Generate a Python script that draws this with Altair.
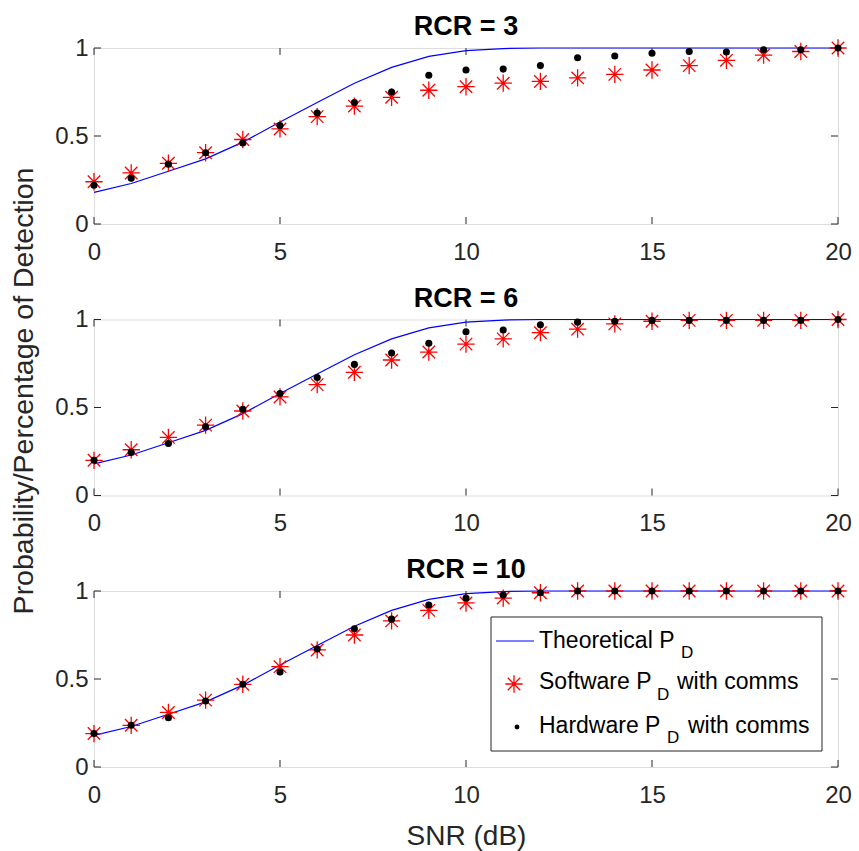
import altair as alt
import pandas as pd

FONT = "Liberation Sans"
AX = "#262626"

snr = list(range(21))

theory = [0.18, 0.23, 0.30, 0.37, 0.465, 0.58, 0.69, 0.80, 0.89, 0.952, 0.985,
          0.997, 1.0, 1.0, 1.0, 1.0, 1.0, 1.0, 1.0, 1.0, 1.0]

sw_rcr3 = [0.24, 0.29, 0.345, 0.405, 0.48, 0.54, 0.61, 0.67, 0.72, 0.76, 0.78,
           0.80, 0.81, 0.83, 0.85, 0.875, 0.90, 0.93, 0.96, 0.98, 1.0]
hw_rcr3 = [0.22, 0.26, 0.34, 0.405, 0.46, 0.56, 0.63, 0.69, 0.75, 0.845, 0.875,
           0.88, 0.90, 0.945, 0.955, 0.97, 0.98, 0.977, 0.99, 0.99, 1.0]

sw_rcr6 = [0.20, 0.26, 0.33, 0.40, 0.48, 0.56, 0.63, 0.70, 0.77, 0.815, 0.86,
           0.89, 0.925, 0.945, 0.975, 0.99, 0.995, 0.995, 0.995, 0.995, 1.0]
hw_rcr6 = [0.20, 0.245, 0.295, 0.39, 0.49, 0.58, 0.67, 0.745, 0.81, 0.865, 0.93,
           0.94, 0.97, 0.985, 0.99, 0.995, 0.995, 0.995, 0.995, 0.995, 1.0]

sw_rcr10 = [0.19, 0.237, 0.31, 0.38, 0.47, 0.57, 0.665, 0.75, 0.83, 0.89, 0.932,
            0.96, 0.99, 1.0, 1.0, 1.0, 1.0, 1.0, 1.0, 1.0, 1.0]
hw_rcr10 = [0.19, 0.237, 0.28, 0.375, 0.47, 0.54, 0.67, 0.785, 0.84, 0.92, 0.96,
            0.977, 0.99, 1.0, 1.0, 1.0, 1.0, 1.0, 1.0, 1.0, 1.0]

rcr_values = [3, 6, 10]
x_ticks = [0, 5, 10, 15, 20]
y_ticks = [0, 0.5, 1]

legend_main = ["Theoretical P", "Software P", "Hardware P"]
legend_sub = ["D", "D", "D"]
legend_tail = ["", "with comms", "with comms"]

W, H = 744, 176
TL = 7  # inner tick length
ASTERISK = "M-1,0L1,0M0,-1L0,1M-0.72,-0.72L0.72,0.72M-0.72,0.72L0.72,-0.72"


def panel(rcr, sw, hw, xtitle, ytitle, legend):
    df = pd.DataFrame({"snr": snr, "theory": theory, "sw": sw, "hw": hw})
    xscale = alt.Scale(domain=[0, 20], nice=False)
    yscale = alt.Scale(domain=[0, 1], nice=False)
    xaxis = alt.Axis(values=x_ticks, format="d", ticks=False, tickSize=0, domain=False,
                     grid=False, labelFlush=False, labelPadding=16, labelFontSize=24,
                     labelFont=FONT, labelColor=AX, titleFontSize=28, titleFont=FONT,
                     titleColor=AX, titleFontWeight="normal", titlePadding=15,
                     title=xtitle if xtitle else None)
    yaxis_kw = dict(values=y_ticks, format="~g", ticks=False, tickSize=0, domain=False,
                    grid=False, labelFlush=False, labelPadding=6, labelFontSize=24,
                    labelFont=FONT, labelColor=AX, titleFontSize=28.5, titleFont=FONT,
                    titleColor=AX, titleFontWeight="normal")
    if ytitle:
        yaxis = alt.Axis(title=ytitle, titleX=-56, titleY=71, titleAngle=270,
                         titleBaseline="bottom", titleAlign="center", **yaxis_kw)
    else:
        yaxis = alt.Axis(title=None, **yaxis_kw)

    X = lambda f: alt.X(f, scale=xscale, axis=xaxis)
    Y = lambda f: alt.Y(f, scale=yscale, axis=yaxis)

    base = alt.Chart(df)
    line = base.mark_line(color="#0000FF", strokeWidth=1.2).encode(x=X("snr:Q"), y=Y("theory:Q"))
    stars = base.mark_point(shape=ASTERISK, size=300, color="#FF0000", filled=False,
                            strokeWidth=1.3, opacity=1).encode(x=X("snr:Q"), y=Y("sw:Q"))
    dots = base.mark_circle(size=50, color="#000000", opacity=1).encode(x=X("snr:Q"), y=Y("hw:Q"))

    xt = alt.Chart(pd.DataFrame({"snr": x_ticks}))
    yt = alt.Chart(pd.DataFrame({"theory": y_ticks}))
    ticks_top = xt.mark_rule(color=AX, strokeWidth=1).encode(x=X("snr:Q"), y=alt.value(0), y2=alt.value(TL))
    ticks_bot = xt.mark_rule(color=AX, strokeWidth=1).encode(x=X("snr:Q"), y=alt.value(H), y2=alt.value(H - TL))
    ticks_left = yt.mark_rule(color=AX, strokeWidth=1).encode(y=Y("theory:Q"), x=alt.value(0), x2=alt.value(TL))
    ticks_right = yt.mark_rule(color=AX, strokeWidth=1).encode(y=Y("theory:Q"), x=alt.value(W), x2=alt.value(W - TL))

    one = alt.Chart(pd.DataFrame({"a": [0]}))
    title = one.mark_text(align="center", baseline="alphabetic", fontSize=27, fontWeight="bold",
                          font=FONT, color="#000000").encode(
        x=alt.value(W / 2), y=alt.value(-13), text=alt.value(f"RCR = {rcr}"))

    layers = [line, ticks_top, ticks_bot, ticks_left, ticks_right, stars, dots, title]

    if legend:
        box = one.mark_rect(fill="white", stroke=AX, strokeWidth=1).encode(
            x=alt.value(397), x2=alt.value(728), y=alt.value(26), y2=alt.value(160))
        lsample = one.mark_rule(color="#0000FF", strokeWidth=1.2).encode(
            x=alt.value(402), x2=alt.value(440), y=alt.value(50))
        lstar = one.mark_point(shape=ASTERISK, size=300, color="#FF0000", filled=False,
                               strokeWidth=1.3, opacity=1).encode(x=alt.value(420), y=alt.value(93))
        ldot = one.mark_circle(size=24, color="#000000", opacity=1).encode(
            x=alt.value(423), y=alt.value(136))
        layers += [box, lsample, lstar, ldot]
        main_y = [56.6, 98.3, 142.3]
        sub_x = [587, 563, 573]
        sub_y = [67.3, 109, 151.7]
        tail_x = [0, 583, 594]
        for i in range(3):
            layers.append(one.mark_text(align="left", baseline="alphabetic", fontSize=23,
                                        font=FONT, color="#000000").encode(
                x=alt.value(445), y=alt.value(main_y[i]), text=alt.value(legend_main[i])))
            layers.append(one.mark_text(align="left", baseline="alphabetic", fontSize=17,
                                        font=FONT, color="#000000").encode(
                x=alt.value(sub_x[i]), y=alt.value(sub_y[i]), text=alt.value(legend_sub[i])))
            if legend_tail[i]:
                layers.append(one.mark_text(align="left", baseline="alphabetic", fontSize=23,
                                            font=FONT, color="#000000").encode(
                    x=alt.value(tail_x[i]), y=alt.value(main_y[i]), text=alt.value(legend_tail[i])))

    return alt.layer(*layers).properties(width=W, height=H)


p1 = panel(rcr_values[0], sw_rcr3, hw_rcr3, None, None, False)
p2 = panel(rcr_values[1], sw_rcr6, hw_rcr6, None, "Probability/Percentage of Detection", False)
p3 = panel(rcr_values[2], sw_rcr10, hw_rcr10, "SNR (dB)", None, True)

chart = alt.vconcat(p1, p2, p3, spacing=95.5, bounds="flush").properties(
    padding={"left": 8, "top": 12, "right": 0, "bottom": 0}
).configure_view(stroke=AX, strokeWidth=1).configure(background="white")

chart.save("out.html", embed_options={"renderer": "svg", "actions": False})
